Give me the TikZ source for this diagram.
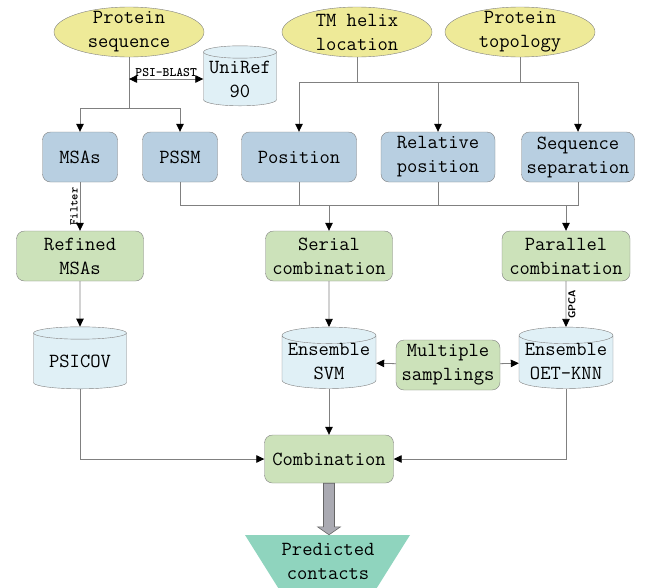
\documentclass[tikz,border=0pt]{standalone}
\usepackage{fontspec}
\usetikzlibrary{positioning, shapes.geometric, arrows.meta, calc}

\definecolor{topicyellow}{RGB}{238,234,152}
\definecolor{featblue}{RGB}{184,207,225}
\definecolor{combgreen}{RGB}{204,226,186}
\definecolor{dbcyan}{RGB}{224,240,246}
\definecolor{predteal}{RGB}{143,212,190}
\definecolor{arrowgray}{RGB}{170,170,178}

\begin{document}
\begin{tikzpicture}[x=1pt,y=-1pt,>={Triangle[length=8pt,width=7.5pt,color=black]},
    line/.style={draw=black!50,line width=0.8pt},
    txt/.style={font=\ttfamily\fontsize{20}{24}\selectfont,align=center},
    topic node/.style={ellipse,draw=black!50,fill=topicyellow,minimum width=150,minimum height=50,inner sep=0pt},
    feat node/.style={txt,rectangle,rounded corners=8pt,draw=black!50,fill=featblue,minimum height=50,inner sep=1pt},
    comb node/.style={feat node,fill=combgreen},
    db node/.style={txt,cylinder,shape border rotate=90,aspect=0.2,draw=black!50,cylinder uses custom fill,
        cylinder body fill=dbcyan,cylinder end fill=dbcyan,minimum width=94,minimum height=60,inner sep=0pt},
    small label/.style={font=\ttfamily\bfseries\fontsize{13}{13}\selectfont,inner sep=2pt}]

\useasboundingbox (0,0) rectangle (650,587);

% inputs
\node[topic node,label={[txt]center:Protein\\sequence}] (seq)  at (129,32) {};
\node[topic node,label={[txt]center:TM helix\\location}] (tm)   at (357,32) {};
\node[topic node,label={[txt]center:Protein\\topology}]  (topo) at (520,32) {};
\node[db node,minimum width=73] (uniref) at (240,79) {UniRef\\90};

% features
\node[feat node,minimum width=75]  (msa)  at (80,157)  {MSAs};
\node[feat node,minimum width=75]  (pssm) at (180,157) {PSSM};
\node[feat node,minimum width=115] (pos)  at (299,157) {Position};
\node[feat node,minimum width=114] (rel)  at (438,157) {Relative\\position};
\node[feat node,minimum width=113] (sep)  at (578,157) {Sequence\\separation};

% combinations
\node[comb node,minimum width=127] (refined) at (80,256)  {Refined\\MSAs};
\node[comb node,minimum width=127] (serial)  at (329,256) {Serial\\combination};
\node[comb node,minimum width=128] (par)     at (566,256) {Parallel\\combination};

% predictors
\node[db node,minimum width=93,minimum height=62] (psicov) at (80,361) {PSICOV};
\node[db node]                     (svm)   at (329,362) {Ensemble\\SVM};
\node[comb node,minimum width=104] (multi) at (448,365) {Multiple\\samplings};
\node[db node]                     (oet)   at (566,362) {Ensemble\\OET-KNN};

\node[comb node,minimum width=129,minimum height=48] (comb) at (329,459) {Combination};

\fill[predteal] (245,535) -- (410,535) -- (373,594) -- (282,594) -- cycle;
\node[txt,minimum height=52,inner sep=0pt] (pred) at (328,561) {Predicted\\contacts};

\coordinate (split)  at (129,108);
\coordinate (topbar) at (0,82);
\coordinate (midbar) at (0,205);

\draw[line] (seq) -- (split);
\draw[line,->] (split) -| (msa);
\draw[line,->] (split) -| (pssm);
\draw[line,<->] (seq.south |- uniref.west) -- node[small label,above] {PSI-BLAST} (uniref.west);

\draw[line] (tm) -- (tm |- topbar);
\draw[line] (topo) -- (topo |- topbar);
\draw[line] (pos |- topbar) -- (sep |- topbar);
\draw[line,->] (pos |- topbar) -- (pos);
\draw[line,->] (rel |- topbar) -- (rel);
\draw[line,->] (sep |- topbar) -- (sep);

\draw[line] (pssm) -- (pssm |- midbar) -- (sep |- midbar) -- (sep);
\draw[line] (pos) -- (pos |- midbar);
\draw[line] (rel) -- (rel |- midbar);
\draw[line,->] (serial |- midbar) -- (serial);
\draw[line,->] (par |- midbar) -- (par);

\path[line,->]
(msa) edge node[small label,rotate=90,above,font=\ttfamily\bfseries\fontsize{12}{12}\selectfont] {Filter} (refined)
(refined) edge (psicov)
(serial) edge (svm)
(par) edge node[small label,rotate=90,below,font=\sffamily\bfseries\fontsize{10}{10}\selectfont] {GPCA} (oet)
(svm) edge (comb)
(multi) edge (svm)
(multi) edge (oet)
;

\draw[line,->] (psicov) |- (comb);
\draw[line,->] (oet) |- (comb);

% big output arrow
\filldraw[draw=black!60,fill=arrowgray,line width=0.6pt]
  ($(comb.south)+(-5.5,0)$) -- ($(comb.south |- pred.north)+(-5.5,-8)$) -- ++(-6,0)
  -- (comb.south |- pred.north) -- ($(comb.south |- pred.north)+(11.5,-8)$) -- ++(-6,0)
  -- ($(comb.south)+(5.5,0)$) -- cycle;
\end{tikzpicture}
\end{document}
